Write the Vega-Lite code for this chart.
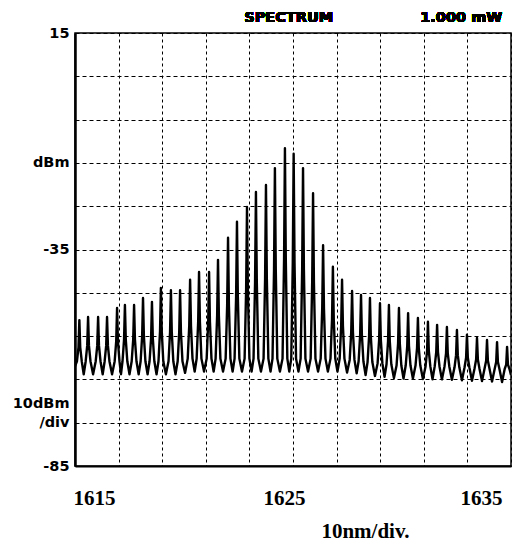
{
"$schema": "https://vega.github.io/schema/vega-lite/v6.json",
"width": 436,
"height": 433,
"autosize": {"type": "none"},
"padding": {"left": 75, "top": 33, "right": 5, "bottom": 81},
"background": "white",
"config": {"view": {"stroke": "black", "strokeWidth": 1.5}},
"data": {"values": [
{"x":1615.00,"y":-62.0},
{"x":1615.09,"y":-60.8},{"x":1615.16,"y":-57.6},{"x":1615.20,"y":-51.3},{"x":1615.24,"y":-57.6},{"x":1615.31,"y":-60.8},{"x":1615.40,"y":-63.8},
{"x":1615.49,"y":-60.8},{"x":1615.56,"y":-57.2},{"x":1615.60,"y":-50.6},{"x":1615.64,"y":-57.2},{"x":1615.71,"y":-60.8},{"x":1615.83,"y":-63.8},
{"x":1615.95,"y":-60.8},{"x":1616.02,"y":-57.2},{"x":1616.06,"y":-50.6},{"x":1616.10,"y":-57.2},{"x":1616.17,"y":-60.8},{"x":1616.27,"y":-63.8},
{"x":1616.36,"y":-60.8},{"x":1616.43,"y":-57.2},{"x":1616.47,"y":-50.6},{"x":1616.51,"y":-57.2},{"x":1616.58,"y":-60.8},{"x":1616.70,"y":-63.8},
{"x":1616.82,"y":-60.8},{"x":1616.89,"y":-56.2},{"x":1616.93,"y":-48.5},{"x":1616.97,"y":-56.2},{"x":1617.04,"y":-60.8},{"x":1617.11,"y":-63.8},
{"x":1617.18,"y":-60.8},{"x":1617.25,"y":-55.8},{"x":1617.29,"y":-47.8},{"x":1617.33,"y":-55.8},{"x":1617.40,"y":-60.8},{"x":1617.50,"y":-63.8},
{"x":1617.60,"y":-60.8},{"x":1617.67,"y":-55.8},{"x":1617.71,"y":-47.8},{"x":1617.75,"y":-55.8},{"x":1617.82,"y":-60.8},{"x":1617.92,"y":-63.8},
{"x":1618.01,"y":-60.8},{"x":1618.08,"y":-55.0},{"x":1618.12,"y":-46.2},{"x":1618.16,"y":-55.0},{"x":1618.23,"y":-60.8},{"x":1618.33,"y":-63.8},
{"x":1618.42,"y":-60.8},{"x":1618.49,"y":-55.5},{"x":1618.53,"y":-47.1},{"x":1618.57,"y":-55.5},{"x":1618.64,"y":-60.8},{"x":1618.74,"y":-63.8},
{"x":1618.83,"y":-60.8},{"x":1618.90,"y":-53.9},{"x":1618.94,"y":-43.9},{"x":1618.98,"y":-53.9},{"x":1619.05,"y":-60.8},{"x":1619.17,"y":-63.8},
{"x":1619.29,"y":-60.8},{"x":1619.36,"y":-54.1},{"x":1619.40,"y":-44.4},{"x":1619.44,"y":-54.1},{"x":1619.51,"y":-60.8},{"x":1619.61,"y":-63.8},
{"x":1619.71,"y":-60.8},{"x":1619.78,"y":-54.1},{"x":1619.82,"y":-44.4},{"x":1619.86,"y":-54.1},{"x":1619.93,"y":-60.8},{"x":1620.05,"y":-63.5},
{"x":1620.17,"y":-60.2},{"x":1620.24,"y":-52.6},{"x":1620.28,"y":-42.0},{"x":1620.32,"y":-52.6},{"x":1620.39,"y":-60.2},{"x":1620.49,"y":-63.2},
{"x":1620.58,"y":-60.2},{"x":1620.65,"y":-51.7},{"x":1620.69,"y":-40.2},{"x":1620.73,"y":-51.7},{"x":1620.80,"y":-60.2},{"x":1620.92,"y":-63.2},
{"x":1621.04,"y":-60.2},{"x":1621.11,"y":-51.7},{"x":1621.15,"y":-40.2},{"x":1621.19,"y":-51.7},{"x":1621.26,"y":-60.2},{"x":1621.36,"y":-63.2},
{"x":1621.45,"y":-60.2},{"x":1621.52,"y":-50.3},{"x":1621.56,"y":-37.4},{"x":1621.60,"y":-50.3},{"x":1621.67,"y":-60.2},{"x":1621.79,"y":-63.2},
{"x":1621.91,"y":-60.2},{"x":1621.98,"y":-47.8},{"x":1622.02,"y":-32.3},{"x":1622.06,"y":-47.8},{"x":1622.13,"y":-60.2},{"x":1622.23,"y":-63.2},
{"x":1622.32,"y":-60.2},{"x":1622.39,"y":-45.9},{"x":1622.43,"y":-28.6},{"x":1622.47,"y":-45.9},{"x":1622.54,"y":-60.2},{"x":1622.66,"y":-63.2},
{"x":1622.78,"y":-60.2},{"x":1622.85,"y":-44.2},{"x":1622.89,"y":-25.2},{"x":1622.93,"y":-44.2},{"x":1623.00,"y":-60.2},{"x":1623.10,"y":-63.2},
{"x":1623.19,"y":-60.2},{"x":1623.26,"y":-42.5},{"x":1623.30,"y":-21.7},{"x":1623.34,"y":-42.5},{"x":1623.41,"y":-60.2},{"x":1623.53,"y":-63.2},
{"x":1623.65,"y":-60.2},{"x":1623.72,"y":-41.7},{"x":1623.76,"y":-20.1},{"x":1623.80,"y":-41.7},{"x":1623.87,"y":-60.2},{"x":1623.97,"y":-63.2},
{"x":1624.06,"y":-60.2},{"x":1624.13,"y":-39.7},{"x":1624.17,"y":-16.2},{"x":1624.21,"y":-39.7},{"x":1624.28,"y":-60.2},{"x":1624.40,"y":-63.2},
{"x":1624.52,"y":-60.2},{"x":1624.59,"y":-37.4},{"x":1624.63,"y":-11.6},{"x":1624.67,"y":-37.4},{"x":1624.74,"y":-60.2},{"x":1624.83,"y":-63.2},
{"x":1624.92,"y":-60.2},{"x":1624.99,"y":-38.0},{"x":1625.03,"y":-12.9},{"x":1625.07,"y":-38.0},{"x":1625.14,"y":-60.2},{"x":1625.25,"y":-63.2},
{"x":1625.35,"y":-60.2},{"x":1625.42,"y":-39.7},{"x":1625.46,"y":-16.2},{"x":1625.50,"y":-39.7},{"x":1625.57,"y":-60.2},{"x":1625.69,"y":-63.2},
{"x":1625.81,"y":-60.2},{"x":1625.88,"y":-42.6},{"x":1625.92,"y":-22.0},{"x":1625.96,"y":-42.6},{"x":1626.03,"y":-60.2},{"x":1626.15,"y":-63.2},
{"x":1626.27,"y":-60.2},{"x":1626.34,"y":-48.6},{"x":1626.38,"y":-34.0},{"x":1626.42,"y":-48.6},{"x":1626.49,"y":-60.2},{"x":1626.60,"y":-63.2},
{"x":1626.72,"y":-60.2},{"x":1626.79,"y":-51.1},{"x":1626.83,"y":-39.0},{"x":1626.87,"y":-51.1},{"x":1626.94,"y":-60.2},{"x":1627.04,"y":-63.2},
{"x":1627.14,"y":-60.2},{"x":1627.21,"y":-52.6},{"x":1627.25,"y":-42.0},{"x":1627.29,"y":-52.6},{"x":1627.36,"y":-60.2},{"x":1627.48,"y":-63.4},
{"x":1627.60,"y":-60.5},{"x":1627.67,"y":-54.1},{"x":1627.71,"y":-44.6},{"x":1627.75,"y":-54.1},{"x":1627.82,"y":-60.5},{"x":1627.92,"y":-63.6},
{"x":1628.01,"y":-60.8},{"x":1628.08,"y":-54.7},{"x":1628.12,"y":-45.5},{"x":1628.16,"y":-54.7},{"x":1628.23,"y":-60.8},{"x":1628.33,"y":-64.0},
{"x":1628.42,"y":-61.0},{"x":1628.49,"y":-55.1},{"x":1628.53,"y":-46.2},{"x":1628.57,"y":-55.1},{"x":1628.64,"y":-61.0},{"x":1628.76,"y":-64.2},
{"x":1628.88,"y":-61.3},{"x":1628.95,"y":-55.9},{"x":1628.99,"y":-47.4},{"x":1629.03,"y":-55.9},{"x":1629.10,"y":-61.3},{"x":1629.20,"y":-64.4},
{"x":1629.29,"y":-61.5},{"x":1629.36,"y":-56.2},{"x":1629.40,"y":-47.8},{"x":1629.44,"y":-56.2},{"x":1629.51,"y":-61.5},{"x":1629.63,"y":-64.7},
{"x":1629.75,"y":-61.8},{"x":1629.82,"y":-56.7},{"x":1629.86,"y":-48.5},{"x":1629.90,"y":-56.7},{"x":1629.97,"y":-61.8},{"x":1630.07,"y":-64.8},
{"x":1630.17,"y":-61.8},{"x":1630.24,"y":-57.3},{"x":1630.28,"y":-49.7},{"x":1630.32,"y":-57.3},{"x":1630.39,"y":-61.8},{"x":1630.50,"y":-64.8},
{"x":1630.62,"y":-61.8},{"x":1630.69,"y":-57.8},{"x":1630.73,"y":-50.8},{"x":1630.77,"y":-57.8},{"x":1630.84,"y":-61.8},{"x":1630.96,"y":-64.9},
{"x":1631.08,"y":-62.0},{"x":1631.15,"y":-58.4},{"x":1631.19,"y":-51.7},{"x":1631.23,"y":-58.4},{"x":1631.30,"y":-62.0},{"x":1631.40,"y":-65.0},
{"x":1631.50,"y":-62.0},{"x":1631.57,"y":-58.7},{"x":1631.61,"y":-52.4},{"x":1631.65,"y":-58.7},{"x":1631.72,"y":-62.0},{"x":1631.83,"y":-65.0},
{"x":1631.95,"y":-62.0},{"x":1632.02,"y":-59.0},{"x":1632.06,"y":-52.9},{"x":1632.10,"y":-59.0},{"x":1632.17,"y":-62.0},{"x":1632.29,"y":-65.1},
{"x":1632.41,"y":-62.2},{"x":1632.48,"y":-59.4},{"x":1632.52,"y":-53.6},{"x":1632.56,"y":-59.4},{"x":1632.63,"y":-62.2},{"x":1632.75,"y":-65.2},
{"x":1632.87,"y":-62.2},{"x":1632.94,"y":-60.0},{"x":1632.98,"y":-54.7},{"x":1633.02,"y":-60.0},{"x":1633.09,"y":-62.2},{"x":1633.21,"y":-65.3},
{"x":1633.33,"y":-62.4},{"x":1633.40,"y":-60.4},{"x":1633.44,"y":-55.4},{"x":1633.48,"y":-60.4},{"x":1633.55,"y":-62.4},{"x":1633.67,"y":-65.4},
{"x":1633.79,"y":-62.4},{"x":1633.86,"y":-60.7},{"x":1633.90,"y":-55.9},{"x":1633.94,"y":-60.7},{"x":1634.01,"y":-62.4},{"x":1634.13,"y":-65.5},
{"x":1634.25,"y":-62.6},{"x":1634.32,"y":-61.0},{"x":1634.36,"y":-56.4},{"x":1634.40,"y":-61.0},{"x":1634.47,"y":-62.6},{"x":1634.59,"y":-65.6},
{"x":1634.71,"y":-62.6},{"x":1634.78,"y":-61.6},{"x":1634.82,"y":-57.5},{"x":1634.86,"y":-61.6},{"x":1634.93,"y":-62.6},{"x":1635.00,"y":-64.0}
]},
"layer": [
{
"mark": {"type": "line", "color": "black", "strokeWidth": 2.4, "strokeJoin": "round", "clip": true},
"encoding": {
"x": {"field": "x", "type": "quantitative",
"scale": {"domain": [1615, 1635], "nice": false, "zero": false},
"axis": {
"values": [1615,1617,1619,1621,1623,1625,1627,1629,1631,1633,1635],
"tickCount": 30,
"labelExpr": "datum.value == 1615 || datum.value == 1625 || datum.value == 1635 ? format(datum.value, 'd') : ''",
"labelFont": "Liberation Serif", "labelFontWeight": "bold", "labelFontSize": 21, "labelColor": "black",
"labelPadding": 21, "labelOverlap": false, "labelFlush": true,
"labelOffset": {"condition": {"test": "datum.value >= 1625", "value": -9}, "value": -2},
"ticks": false, "tickSize": 0,
"domain": true, "domainColor": "black", "domainWidth": 1.8,
"grid": true, "gridColor": "black", "gridDash": [3, 3], "gridWidth": 1, "gridOpacity": 1,
"title": "10nm/div.", "titleFont": "Liberation Serif", "titleFontWeight": "bold", "titleFontSize": 21, "titleColor": "black",
"titleX": 290, "titleY": 71, "titleAlign": "center", "titleBaseline": "alphabetic", "titleAnchor": null
}},
"y": {"field": "y", "type": "quantitative",
"scale": {"domain": [-85, 15], "nice": false, "zero": false},
"axis": {
"values": [15,5,-5,-15,-25,-35,-45,-55,-65,-70.5,-75,-85],
"tickCount": 30,
"labelExpr": "datum.value == 15 ? '15' : datum.value == -15 ? 'dBm' : datum.value == -35 ? '-35' : datum.value == -70.5 ? '10dBm' : datum.value == -75 ? '/div' : datum.value == -85 ? '-85' : ''",
"labelFont": "DejaVu Sans", "labelFontWeight": "bold", "labelFontSize": 14.5, "labelColor": "black",
"labelPadding": 6, "labelOverlap": false, "labelFlush": false, "labelBound": false,
"ticks": false, "tickSize": 0,
"domain": true, "domainColor": "black", "domainWidth": 2.5,
"grid": true, "gridColor": "black", "gridDash": [4, 3], "gridWidth": 1,
"gridOpacity": {"condition": {"test": "datum.value == -70.5", "value": 0}, "value": 1},
"title": null
}}
}
},
{
"mark": {"type": "text", "text": "SPECTRUM", "align": "center", "baseline": "alphabetic", "dy": -11, "font": "DejaVu Sans", "fontSize": 14.5, "fontWeight": "bold", "color": "black"},
"encoding": {
"x": {"datum": 1624.8, "type": "quantitative"},
"y": {"datum": 15, "type": "quantitative"}
}
},
{
"mark": {"type": "text", "text": "1.000 mW", "align": "right", "baseline": "alphabetic", "dy": -11, "font": "DejaVu Sans", "fontSize": 14.5, "fontWeight": "bold", "color": "black"},
"encoding": {
"x": {"datum": 1634.6, "type": "quantitative"},
"y": {"datum": 15, "type": "quantitative"}
}
}
]
}
